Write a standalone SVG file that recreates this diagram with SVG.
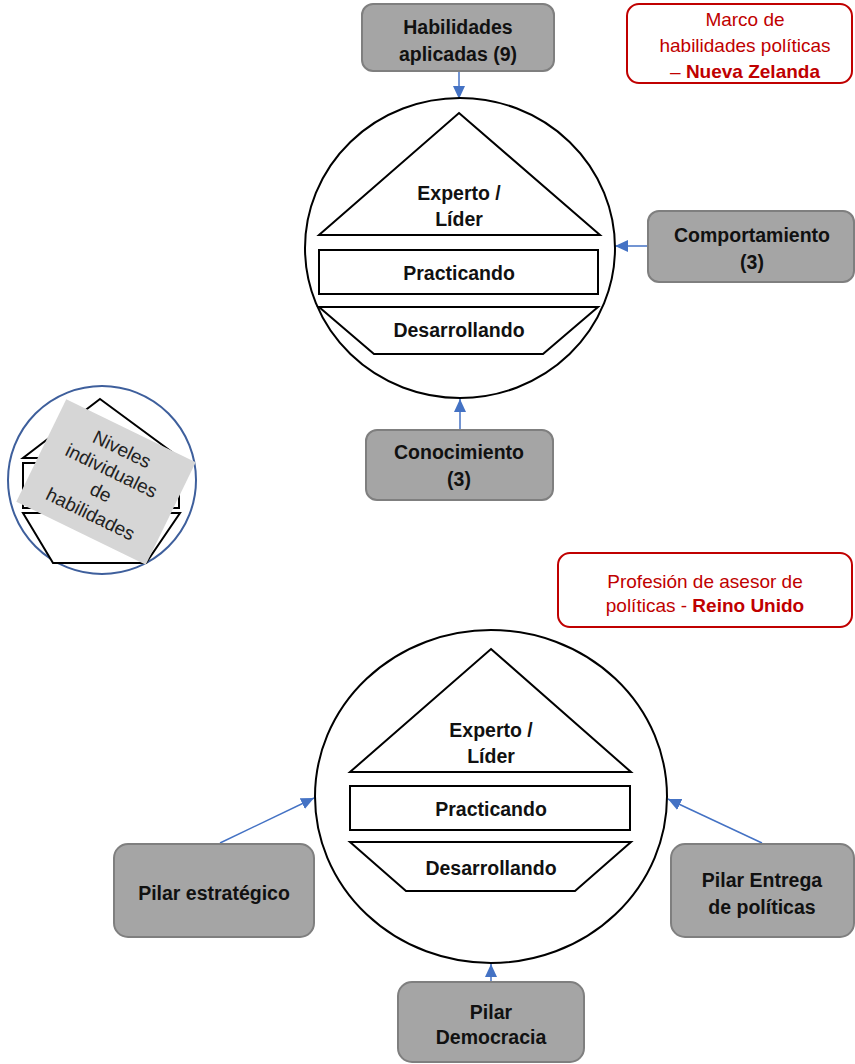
<svg xmlns="http://www.w3.org/2000/svg" width="855" height="1064" viewBox="0 0 855 1064">
<defs>
<marker id="ah" markerUnits="userSpaceOnUse" markerWidth="14" markerHeight="12" refX="13" refY="6" orient="auto">
<path d="M0,0 L13,6 L0,12 Z" fill="#4472c4"/>
</marker>
</defs>
<style>
.box{fill:#a5a5a5;stroke:#7f7f7f;stroke-width:2}
.note{fill:#ffffff;stroke:#c00000;stroke-width:2}
.shape{fill:#ffffff;stroke:#000000;stroke-width:2}
.conn{stroke:#4472c4;stroke-width:1.5;fill:none}
.b{font-family:"Liberation Sans",Arial,sans-serif;font-weight:bold;font-size:19.5px;fill:#111111;text-anchor:middle}
.r{font-family:"Liberation Sans",Arial,sans-serif;font-size:19px;fill:#c00000;text-anchor:middle}
.s{font-family:"Liberation Sans",Arial,sans-serif;font-size:19px;fill:#222222;text-anchor:middle}
</style>
<rect width="855" height="1064" fill="#ffffff"/>

<g id="connectors">
<line class="conn" x1="459" y1="71" x2="459" y2="99" marker-end="url(#ah)"/>
<line class="conn" x1="648" y1="246" x2="615" y2="246" marker-end="url(#ah)"/>
<line class="conn" x1="460" y1="430" x2="460" y2="399" marker-end="url(#ah)"/>
<line class="conn" x1="220" y1="843" x2="314" y2="798" marker-end="url(#ah)"/>
<line class="conn" x1="762" y1="843" x2="668" y2="799" marker-end="url(#ah)"/>
<line class="conn" x1="491" y1="982" x2="491" y2="964" marker-end="url(#ah)"/>
</g>

<g id="nz-levels">
<ellipse class="shape" cx="460" cy="248" rx="155" ry="150"/>
<polygon class="shape" points="459,113 600,235 319,235"/>
<rect class="shape" x="319" y="250" width="279" height="44"/>
<polygon class="shape" points="319,307 598,307 543,354 374,354"/>
<text class="b" x="459" y="200">Experto /</text>
<text class="b" x="459" y="226">Líder</text>
<text class="b" x="459" y="280">Practicando</text>
<text class="b" x="459" y="337">Desarrollando</text>
</g>

<g id="habilidades-aplicadas">
<rect class="box" x="362" y="4" width="192" height="67" rx="11"/>
<text class="b" x="458" y="34">Habilidades</text>
<text class="b" x="458" y="61">aplicadas (9)</text>
</g>

<g id="nz-title">
<rect class="note" x="627" y="4" width="225" height="79" rx="12"/>
<text class="r" x="745" y="26">Marco de</text>
<text class="r" x="745" y="52">habilidades políticas</text>
<text class="r" x="745" y="78">– <tspan font-weight="bold">Nueva Zelanda</tspan></text>
</g>

<g id="comportamiento">
<rect class="box" x="648" y="211" width="206" height="71" rx="11"/>
<text class="b" x="752" y="242">Comportamiento</text>
<text class="b" x="752" y="269">(3)</text>
</g>

<g id="conocimiento">
<rect class="box" x="366" y="430" width="187" height="70" rx="11"/>
<text class="b" x="459" y="459">Conocimiento</text>
<text class="b" x="459" y="486">(3)</text>
</g>

<g id="legend-icon">
<circle cx="102" cy="480" r="94" fill="#ffffff" stroke="#3e5f9c" stroke-width="2"/>
<polygon class="shape" points="100,399 180,458 23,458"/>
<rect class="shape" x="23" y="463" width="156" height="45"/>
<polygon class="shape" points="23,513 180,513 146,563 53,563"/>
<g transform="translate(106,482) rotate(26)">
<rect x="-72" y="-57" width="144" height="114" fill="#d6d6d6"/>
<text class="s" x="0" y="-30">Niveles</text>
<text class="s" x="0" y="-6">individuales</text>
<text class="s" x="0" y="18">de</text>
<text class="s" x="0" y="42">habilidades</text>
</g>
</g>

<g id="uk-title">
<rect class="note" x="558" y="553" width="294" height="74" rx="12"/>
<text class="r" x="705" y="588">Profesión de asesor de</text>
<text class="r" x="705" y="612">políticas - <tspan font-weight="bold">Reino Unido</tspan></text>
</g>

<g id="uk-levels">
<ellipse class="shape" cx="491" cy="796.5" rx="176" ry="166.5"/>
<polygon class="shape" points="491,649 631,772 350,772"/>
<rect class="shape" x="350" y="786" width="280" height="44"/>
<polygon class="shape" points="350,842 631,842 575,891 406,891"/>
<text class="b" x="491" y="737">Experto /</text>
<text class="b" x="491" y="763">Líder</text>
<text class="b" x="491" y="816">Practicando</text>
<text class="b" x="491" y="875">Desarrollando</text>
</g>

<g id="pilar-estrategico">
<rect class="box" x="114" y="844" width="200" height="93" rx="14"/>
<text class="b" x="214" y="900">Pilar estratégico</text>
</g>

<g id="pilar-entrega">
<rect class="box" x="671" y="844" width="183" height="93" rx="14"/>
<text class="b" x="762" y="887">Pilar Entrega</text>
<text class="b" x="762" y="914">de políticas</text>
</g>

<g id="pilar-democracia">
<rect class="box" x="398" y="982" width="186" height="80" rx="14"/>
<text class="b" x="491" y="1019">Pilar</text>
<text class="b" x="491" y="1044">Democracia</text>
</g>
</svg>
